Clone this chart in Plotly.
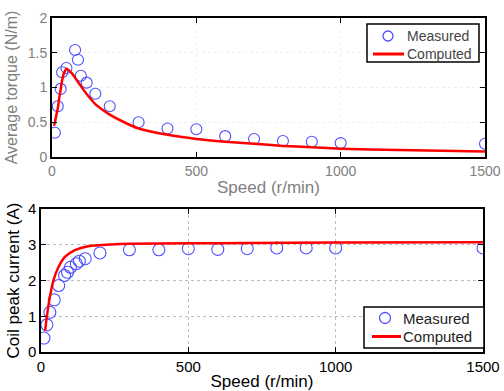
import plotly.graph_objects as go

# ---- data: top panel (average torque) ----
torque_meas_speed = [10, 20, 30, 35, 50, 80, 90, 100, 120, 150, 200, 300, 400, 500, 600, 700, 800, 900, 1000, 1500]
torque_meas = [0.35, 0.73, 0.98, 1.22, 1.28, 1.54, 1.40, 1.17, 1.07, 0.91, 0.73, 0.50, 0.41, 0.40, 0.30, 0.26, 0.23, 0.22, 0.20, 0.19]
torque_comp_speed = [7, 10, 15, 20, 25, 30, 35, 40, 45, 50, 55, 60, 70, 80, 90, 100, 125, 150, 175, 200, 250, 300, 400, 500, 600, 700, 800, 900, 1000, 1200, 1500]
torque_comp = [0.45, 0.50, 0.60, 0.70, 0.85, 0.97, 1.10, 1.19, 1.24, 1.27, 1.26, 1.24, 1.20, 1.14, 1.08, 1.02, 0.88, 0.76, 0.68, 0.61, 0.50, 0.41, 0.32, 0.26, 0.22, 0.19, 0.16, 0.14, 0.12, 0.10, 0.08]

# ---- data: bottom panel (coil peak current) ----
cur_meas_speed = [10, 20, 30, 45, 60, 80, 90, 100, 120, 130, 150, 200, 300, 400, 500, 600, 700, 800, 900, 1000, 1500]
cur_meas = [0.39, 0.76, 1.11, 1.46, 1.86, 2.14, 2.23, 2.37, 2.47, 2.54, 2.61, 2.77, 2.86, 2.86, 2.89, 2.87, 2.89, 2.91, 2.91, 2.91, 2.91]
cur_comp_speed = [14, 20, 30, 42, 59, 81, 115, 160, 240, 300, 500, 700, 1000, 1500]
cur_comp = [0.59, 1.00, 1.53, 2.00, 2.37, 2.66, 2.85, 2.96, 3.01, 3.03, 3.04, 3.05, 3.06, 3.07]

x_ticks = [0, 500, 1000, 1500]
top_y_ticks = [0, 0.5, 1, 1.5, 2]
bot_y_ticks = [0, 1, 2, 3, 4]
legend_names = ["Measured", "Computed"]

FONT = "Liberation Sans, Arial, sans-serif"
BLUE = "rgb(80,80,255)"
RED = "rgb(255,0,0)"
GRAY = "#808080"

fig = go.Figure()
fig.add_trace(go.Scatter(x=torque_meas_speed, y=torque_meas, mode="markers", name=legend_names[0],
                         marker=dict(symbol="circle-open", size=11, color=BLUE, line=dict(width=1.1)),
                         xaxis="x", yaxis="y"))
fig.add_trace(go.Scatter(x=torque_comp_speed, y=torque_comp, mode="lines", name=legend_names[1],
                         line=dict(color=RED, width=2.5, shape="spline", smoothing=0.6),
                         xaxis="x", yaxis="y"))
fig.add_trace(go.Scatter(x=cur_meas_speed, y=cur_meas, mode="markers", name=legend_names[0],
                         marker=dict(symbol="circle-open", size=12, color=BLUE, line=dict(width=1.1)),
                         xaxis="x2", yaxis="y2"))
fig.add_trace(go.Scatter(x=cur_comp_speed, y=cur_comp, mode="lines", name=legend_names[1],
                         line=dict(color=RED, width=2.5, shape="spline", smoothing=0.6),
                         xaxis="x2", yaxis="y2"))

W, H = 504, 391


def px(x):
    return x / W


def py(y):
    return 1 - y / H


def ax_common(color, gridcolor, size, lw):
    return dict(showline=True, linecolor="black", linewidth=lw, mirror="ticks",
                ticks="inside", ticklen=5, tickcolor="black", tickwidth=1.2,
                showgrid=True, gridcolor=gridcolor, griddash="dot", gridwidth=1,
                zeroline=False, automargin=False,
                tickfont=dict(family=FONT, size=size, color=color))


shapes = []
annotations = []


def legend_box(x0, x1, y0, y1, cx, y_m, y_c, lx0, lx1, tx, r, fsize, tcolor):
    shapes.append(dict(type="rect", xref="paper", yref="paper",
                       x0=px(x0), x1=px(x1), y0=py(y1), y1=py(y0),
                       line=dict(color="black", width=1.5), fillcolor="white"))
    shapes.append(dict(type="circle", xref="paper", yref="paper",
                       x0=px(cx - r), x1=px(cx + r), y0=py(y_m + r), y1=py(y_m - r),
                       line=dict(color=BLUE, width=1.3)))
    shapes.append(dict(type="line", xref="paper", yref="paper",
                       x0=px(lx0), x1=px(lx1), y0=py(y_c), y1=py(y_c),
                       line=dict(color=RED, width=3)))
    for name, yy in zip(legend_names, [y_m, y_c]):
        annotations.append(dict(text=name, xref="paper", yref="paper", x=px(tx), y=py(yy),
                                xanchor="left", yanchor="middle", showarrow=False,
                                font=dict(family=FONT, size=fsize, color=tcolor)))


legend_box(367, 479, 24, 62, 388, 36, 54, 373, 404, 405, 5, 14, "#444444")
legend_box(364, 484, 307, 348, 385, 318, 336.5, 372, 401, 401, 5.5, 15, "#222222")

fig.update_layout(
    width=W, height=H, margin=dict(l=0, r=0, t=0, b=0),
    paper_bgcolor="white", plot_bgcolor="white",
    font=dict(family=FONT),
    showlegend=False,
    shapes=shapes, annotations=annotations,
    xaxis=dict(domain=[52 / W, 485 / W], range=[0, 1500], tickvals=x_ticks, anchor="y",
               title=dict(text="Speed (r/min)", font=dict(size=17, color=GRAY), standoff=3),
               **ax_common(GRAY, "#efefef", 14, 1.8)),
    yaxis=dict(domain=[1 - 157 / H, 1 - 18 / H], range=[0, 2], tickvals=top_y_ticks, anchor="x",
               title=dict(text="Average torque (N/m)", font=dict(size=16, color=GRAY), standoff=6),
               **ax_common(GRAY, "#efefef", 14, 1.8)),
    xaxis2=dict(domain=[41 / W, 483 / W], range=[0, 1500], tickvals=x_ticks, anchor="y2",
                title=dict(text="Speed (r/min)", font=dict(size=17, color="black"), standoff=2),
                **ax_common("black", "#bdbdbd", 15, 1.5)),
    yaxis2=dict(domain=[1 - 352 / H, 1 - 209 / H], range=[0, 4], tickvals=bot_y_ticks, anchor="x2",
                title=dict(text="Coil peak current (A)", font=dict(size=17, color="black"), standoff=4),
                **ax_common("black", "#bdbdbd", 15, 1.5)),
)

fig.write_html("out.html", config={"displayModeBar": False},
               post_script="document.body.style.margin='0px';")
